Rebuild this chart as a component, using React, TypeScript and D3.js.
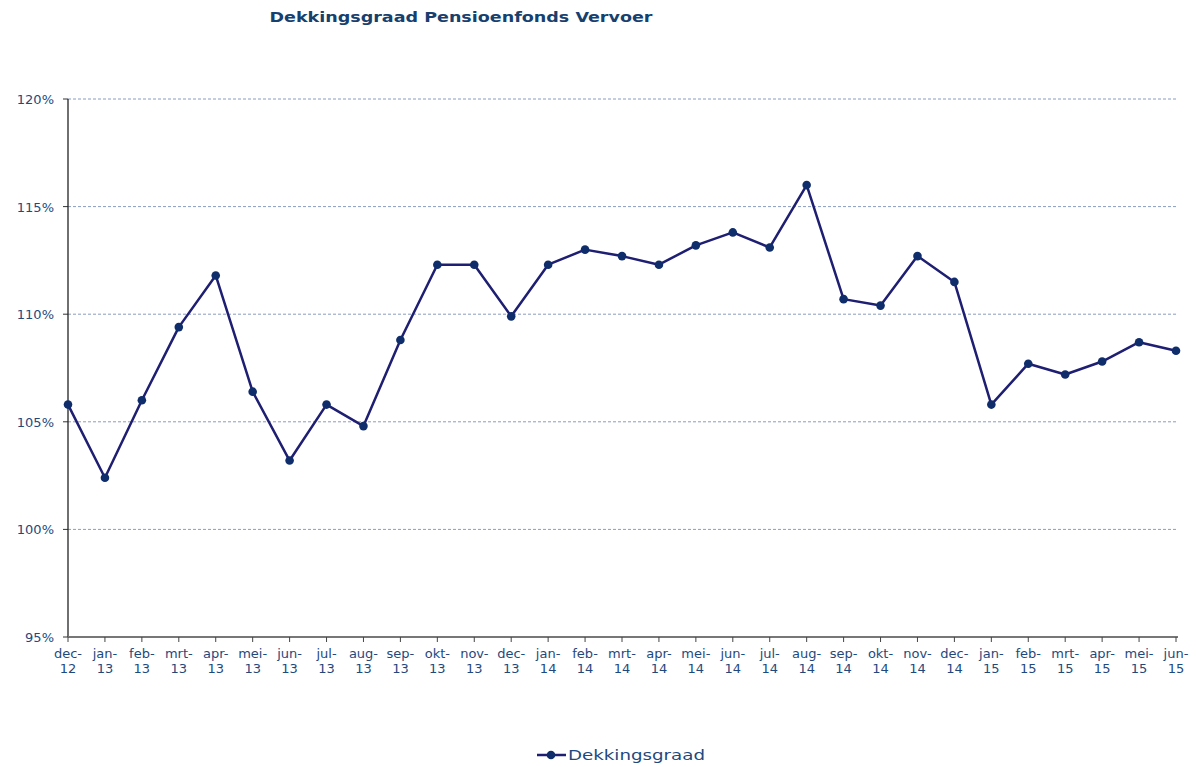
import React from "react";
import * as d3 from "d3";

const months = [
  "dec-12", "jan-13", "feb-13", "mrt-13", "apr-13", "mei-13", "jun-13", "jul-13", "aug-13", "sep-13", "okt-13", "nov-13", "dec-13",
  "jan-14", "feb-14", "mrt-14", "apr-14", "mei-14", "jun-14", "jul-14", "aug-14", "sep-14", "okt-14", "nov-14", "dec-14",
  "jan-15", "feb-15", "mrt-15", "apr-15", "mei-15", "jun-15",
];
const dekkingsgraad = [
  105.8, 102.4, 106.0, 109.4, 111.8, 106.4, 103.2, 105.8, 104.8, 108.8, 112.3, 112.3, 109.9,
  112.3, 113.0, 112.7, 112.3, 113.2, 113.8, 113.1, 116.0, 110.7, 110.4, 112.7, 111.5,
  105.8, 107.7, 107.2, 107.8, 108.7, 108.3,
];
const yTicks = [95, 100, 105, 110, 115, 120];
const title = "Dekkingsgraad Pensioenfonds Vervoer";
const seriesName = "Dekkingsgraad";

const W = 1196, H = 767;
const L = 68, R = 1176, T = 99, B = 637;
const FONT = "Verdana, 'DejaVu Sans', sans-serif";
const TXT = "#1F497D";
const LINE = "#1E1E72";
const DOT = "#0F2D6B";

export default function App() {
  const x = d3.scalePoint<string>().domain(months).range([L, R]).padding(0);
  const y = d3.scaleLinear().domain([95, 120]).range([B, T]);
  const line = d3.line<number>().x((_, i) => x(months[i])!).y((d) => y(d));

  return (
    <svg width={W} height={H} style={{ position: "absolute", left: 0, top: 0, background: "#fff" }}>
      <rect width={W} height={H} fill="#fff" />
      <text x={461} y={22} textAnchor="middle" fontFamily={FONT} fontWeight="bold" fontSize={14} fill="#17406E" textLength={383} lengthAdjust="spacingAndGlyphs">{title}</text>
      {yTicks.filter((t) => t !== 95).map((t) => (
        <line key={"g" + t} x1={L} x2={R} y1={y(t)} y2={y(t)} stroke="#8A9CC0" strokeWidth={1} strokeDasharray="3,2" />
      ))}
      {yTicks.map((t) => (
        <g key={"yt" + t}>
          <line x1={L - 5} x2={L} y1={y(t)} y2={y(t)} stroke="#333" strokeWidth={1} />
          <text x={54} y={y(t) + 5} textAnchor="end" fontFamily={FONT} fontSize={13} fill={TXT}>{t}%</text>
        </g>
      ))}
      <line x1={L} x2={L} y1={T} y2={B} stroke="#222" strokeWidth={1.3} />
      <line x1={L} x2={R + 2} y1={B} y2={B} stroke="#777" strokeWidth={2} />
      {months.map((m) => {
        const [a, b] = m.split("-");
        const xx = x(m)!;
        return (
          <g key={m}>
            <line x1={xx} x2={xx} y1={B} y2={B + 5} stroke="#444" strokeWidth={1} />
            <text x={xx} y={658} textAnchor="middle" fontFamily={FONT} fontSize={13} fill={TXT}>{a}-</text>
            <text x={xx} y={673} textAnchor="middle" fontFamily={FONT} fontSize={13} fill={TXT}>{b}</text>
          </g>
        );
      })}
      <path d={line(dekkingsgraad)!} fill="none" stroke={LINE} strokeWidth={2.5} strokeLinejoin="round" />
      {dekkingsgraad.map((v, i) => (
        <circle key={i} cx={x(months[i])!} cy={y(v)} r={4.3} fill={DOT} />
      ))}
      <line x1={537} x2={566} y1={755} y2={755} stroke={LINE} strokeWidth={2.5} />
      <circle cx={551} cy={755} r={4.3} fill={DOT} />
      <text x={568} y={760} fontFamily={FONT} fontSize={14} fill={TXT} textLength={137} lengthAdjust="spacingAndGlyphs">{seriesName}</text>
    </svg>
  );
}
